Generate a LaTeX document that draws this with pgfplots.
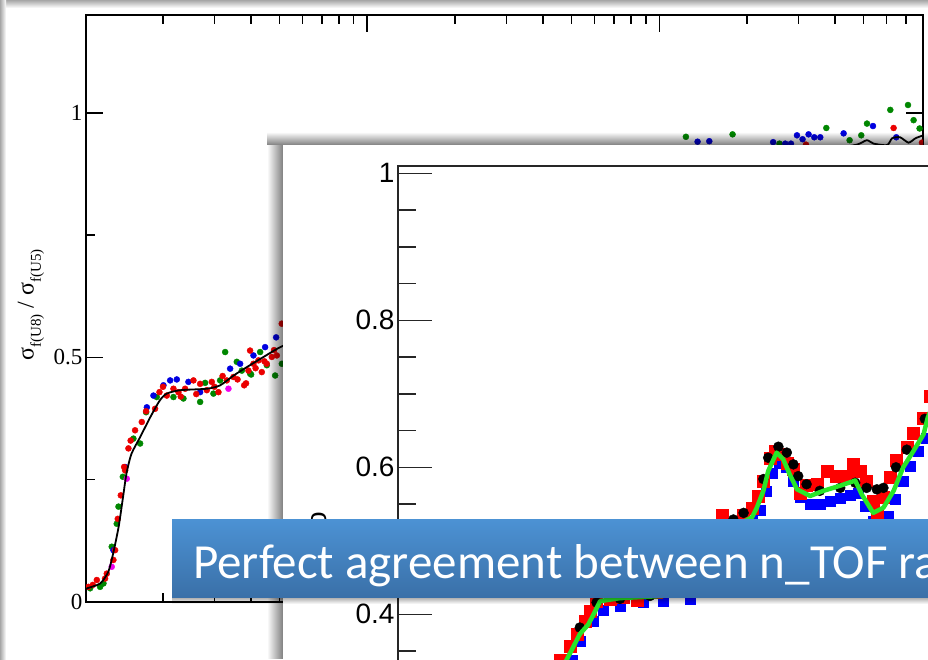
\documentclass[border=0pt]{standalone}
\usepackage{fontspec}
\setmainfont{Liberation Serif}
\setsansfont{Liberation Sans}
\newfontfamily\carlito{Carlito}
\usepackage{pgfplots}
\pgfplotsset{compat=1.18}
\usetikzlibrary{fadings}

\definecolor{dotred}{RGB}{235,0,0}
\definecolor{dotblue}{RGB}{0,0,225}
\definecolor{dotgreen}{RGB}{0,135,0}
\definecolor{dotmag}{RGB}{240,0,240}
\definecolor{fitgreen}{RGB}{40,230,40}
\definecolor{bannertop}{RGB}{76,146,212}
\definecolor{bannerbot}{RGB}{58,112,168}

\begin{document}
\begin{tikzpicture}
\useasboundingbox (0pt,0pt) rectangle (928pt,659pt);
\clip (0pt,0pt) rectangle (928pt,659pt);
\fill[white] (0pt,0pt) rectangle (928pt,659pt);
% frame shadow along the top and left edges
\shade[top color=gray!70, bottom color=white] (0pt,651pt) rectangle (928pt,659pt);
\shade[left color=gray!70, right color=white] (0pt,0pt) rectangle (6pt,659pt);

% ---------------- full energy range: sigma_f(U8)/sigma_f(U5) ----------------
\begin{axis}[
  at={(86pt,57pt)}, anchor=south west,
  width=837pt, height=587pt, scale only axis,
  xmode=log, xmin=1.09, xmax=800,
  ymin=0, ymax=1.2,
  xtick={10,100},
  minor xtick={2,3,4,5,6,7,8,9,20,30,40,50,60,70,80,90,200,300,400,500,600,700},
  xticklabels={},
  ytick={0,0.5,1}, minor ytick={0.25,0.75},
  major tick length=17pt, minor tick length=9pt,
  tick align=inside,
  every tick/.style={black, line width=1.4pt},
  axis line style={black, line width=1.6pt},
  tick label style={font=\fontsize{23}{23}\selectfont},
  /pgf/number format/assume math mode=true,
  clip marker paths=true,
]
\addplot[only marks, mark=*, mark size=3pt, color=dotgreen] table {
1.126 0.028
1.218 0.031
1.251 0.038
1.335 0.113
1.389 0.160
1.408 0.195
1.457 0.256
1.584 0.334
1.670 0.324
1.751 0.388
1.904 0.419
2.172 0.419
2.350 0.416
2.680 0.409
2.788 0.448
2.977 0.426
3.138 0.453
3.265 0.511
3.579 0.491
3.723 0.473
3.975 0.467
4.006 0.465
4.301 0.511
4.533 0.484
4.842 0.463
5.104 0.487
123.4 0.951
178.3 0.956
258 0.937
373.3 0.969
448.5 0.944
491.7 0.954
514.4 0.978
618.2 1.006
710.8 1.016
742.9 0.985
778.8 0.968
};
\addplot[only marks, mark=*, mark size=3pt, color=dotblue] table {
1.353 0.106
1.484 0.276
1.761 0.398
1.855 0.422
2.007 0.443
2.116 0.453
2.230 0.455
2.444 0.450
2.680 0.429
3.396 0.477
3.674 0.487
4.081 0.504
4.474 0.521
4.880 0.541
135.3 0.941
148.4 0.942
245.5 0.940
270.0 0.937
282.5 0.937
296.2 0.954
309.6 0.946
324.6 0.956
339.5 0.950
355.9 0.950
427.9 0.958
539.3 0.973
648.1 0.950
};
\addplot[only marks, mark=*, mark size=3pt, color=dotred] table {
1.111 0.031
1.150 0.035
1.187 0.045
1.267 0.048
1.284 0.058
1.353 0.086
1.371 0.106
1.400 0.170
1.434 0.218
1.472 0.276
1.484 0.269
1.523 0.314
1.550 0.330
1.605 0.351
1.692 0.368
1.750 0.390
1.879 0.395
1.945 0.429
2.000 0.440
2.061 0.422
2.172 0.436
2.259 0.429
2.300 0.420
2.381 0.436
2.543 0.453
2.600 0.425
2.680 0.446
2.825 0.433
2.938 0.450
3.000 0.440
3.097 0.429
3.200 0.462
3.307 0.453
3.486 0.460
3.600 0.455
3.793 0.443
3.850 0.447
3.923 0.473
3.975 0.514
4.081 0.487
4.150 0.478
4.246 0.494
4.358 0.470
4.450 0.492
4.533 0.487
4.716 0.501
4.800 0.515
4.906 0.504
5.100 0.569
318.0 0.935
634.5 0.969
793.6 0.939
};
\addplot[only marks, mark=*, mark size=3pt, color=dotmag] table {
1.335 0.072
1.503 0.252
3.351 0.436
};
\addplot[black, line width=1.8pt, smooth, tension=0.4] table {
1.09 0.026
1.10 0.028
1.22 0.038
1.30 0.062
1.35 0.099
1.41 0.154
1.46 0.215
1.50 0.263
1.56 0.303
1.67 0.337
1.81 0.378
1.95 0.412
2.06 0.426
2.29 0.433
2.83 0.436
3.14 0.443
3.49 0.463
3.87 0.480
4.42 0.501
5.04 0.521
6.0 0.540
8.0 0.570
12 0.620
20 0.700
35 0.780
60 0.840
100 0.880
180 0.910
300 0.925
400 0.928
475 0.935
514 0.944
542 0.937
603 0.934
627 0.948
668 0.950
714 0.939
754 0.948
794 0.953
800 0.953
};
\end{axis}
\node[rotate=90, inner sep=0pt, font=\fontsize{24}{24}\selectfont] at (31pt,354pt)
  {σ\raisebox{-0.3em}{\fontsize{15}{15}\selectfont f(U8)} / σ\raisebox{-0.3em}{\fontsize{15}{15}\selectfont f(U5)}};

% ---------------- zoomed panel ----------------
% soft, see-through shadow on the left and top of the panel
\fill[black, opacity=0.5, path fading=west] (267pt,0pt) rectangle (283pt,514pt);
\fill[black, opacity=0.5, path fading=north] (267pt,514pt) rectangle (928pt,527pt);
\fill[white] (283pt,0pt) rectangle (928pt,514pt);

\begin{axis}[
  at={(398pt,-102.3pt)}, anchor=south west,
  width=720pt, height=595.35pt, scale only axis,
  xmin=0, xmax=12, ymin=0.2, ymax=1.01,
  xtick=\empty,
  ytick={0.2,0.4,0.6,0.8,1},
  minor ytick={0.25,0.3,0.35,0.45,0.5,0.55,0.65,0.7,0.75,0.85,0.9,0.95},
  ytick pos=left,
  major tick length=34pt, minor tick length=18pt,
  tick align=inside,
  every tick/.style={black!85, line width=1.6pt},
  axis line style={black!85, line width=1.8pt},
  tick label style={font=\fontsize{28}{28}\sffamily},
  /pgf/number format/assume math mode=true,
  clip marker paths=true,
]
\addplot[only marks, mark=square*, mark size=5pt, color=blue] table {
2.60 0.310
2.90 0.338
3.03 0.364
3.25 0.391
3.42 0.405
3.70 0.411
4.08 0.416
4.42 0.418
4.87 0.421
5.30 0.480
5.90 0.527
6.03 0.541
6.13 0.568
6.23 0.592
6.35 0.606
6.47 0.600
6.58 0.581
6.70 0.560
6.87 0.550
7.03 0.550
7.20 0.554
7.37 0.558
7.53 0.562
7.67 0.565
7.78 0.547
7.92 0.527
8.03 0.520
8.17 0.534
8.28 0.557
8.42 0.581
8.53 0.602
8.67 0.622
8.80 0.640
8.93 0.663
};
\addplot[only marks, mark=square*, mark size=6pt, color=red] table {
2.50 0.300
2.70 0.338
2.87 0.357
2.98 0.373
3.12 0.391
3.20 0.404
3.31 0.418
3.53 0.421
3.75 0.423
3.98 0.419
4.30 0.430
4.60 0.450
5.00 0.480
5.40 0.535
5.76 0.535
5.90 0.545
6.01 0.561
6.09 0.581
6.20 0.613
6.28 0.622
6.37 0.618
6.48 0.606
6.59 0.597
6.70 0.565
6.81 0.575
6.98 0.577
7.15 0.595
7.31 0.588
7.48 0.588
7.59 0.604
7.70 0.595
7.81 0.581
7.92 0.554
7.98 0.536
8.09 0.559
8.20 0.586
8.31 0.609
8.48 0.627
8.59 0.647
8.76 0.667
8.87 0.697
9.00 0.720
};
\addplot[only marks, mark=*, mark size=5pt, color=black] table {
2.60 0.310
3.03 0.382
3.31 0.416
3.70 0.421
4.20 0.425
5.00 0.470
5.59 0.529
5.76 0.538
6.09 0.584
6.17 0.613
6.34 0.628
6.48 0.620
6.59 0.604
6.67 0.588
6.81 0.577
7.03 0.568
7.37 0.572
7.62 0.579
7.81 0.572
7.98 0.570
8.09 0.572
8.30 0.600
8.48 0.624
8.78 0.666
8.95 0.700
};
\addplot[fitgreen, line width=4.5pt, line join=round] table {
2.30 0.270
2.60 0.310
2.81 0.338
3.03 0.373
3.17 0.386
3.26 0.400
3.37 0.418
3.70 0.422
4.42 0.425
4.87 0.445
5.28 0.493
5.60 0.520
5.81 0.528
5.90 0.532
5.98 0.545
6.09 0.568
6.17 0.595
6.31 0.620
6.42 0.611
6.53 0.590
6.65 0.570
6.87 0.561
7.09 0.568
7.37 0.575
7.62 0.582
7.73 0.563
7.92 0.538
8.09 0.545
8.26 0.568
8.42 0.600
8.59 0.622
8.76 0.645
8.83 0.668
9.00 0.700
};
\end{axis}
\node[rotate=90, anchor=east, inner sep=0pt, font=\fontsize{28}{28}\sffamily] at (316pt,147pt) {Ratio};

% ---------------- caption banner ----------------
\fill[black, opacity=0.35, path fading=south] (172pt,55pt) rectangle (928pt,62pt);
\shade[top color=bannertop, bottom color=bannerbot] (172pt,62pt) rectangle (940pt,140pt);
\node[anchor=base west, inner sep=0pt, text=white, font=\carlito\fontsize{49}{49}\selectfont]
  at (193pt,81pt) {Perfect agreement between n\_TOF ratio};
\end{tikzpicture}
\end{document}
